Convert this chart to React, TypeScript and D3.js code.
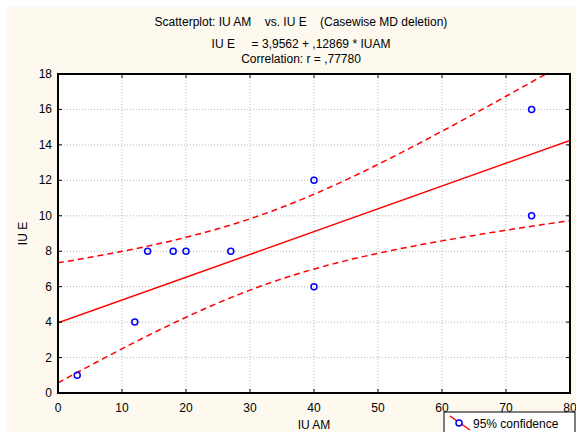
import React from "react";
import * as d3 from "d3";

const xValues = [3, 12, 14, 18, 20, 27, 40, 40, 74, 74];
const yValues = [1, 4, 8, 8, 8, 8, 12, 6, 16, 10];
const xTicks = [0, 10, 20, 30, 40, 50, 60, 70, 80];
const yTicks = [0, 2, 4, 6, 8, 10, 12, 14, 16, 18];
const titleLines = [
  "Scatterplot: IU AM    vs. IU E    (Casewise MD deletion)",
  "IU E     = 3,9562 + ,12869 * IUAM",
  "Correlation: r = ,77780",
];
const xLabel = "IU AM";
const yLabel = "IU E";
const legendLabel = "95% confidence";
const tCrit = 2.306; // t(0.975, df=8)

const W = 576, H = 432;
const M = { left: 58, right: 570, top: 74, bottom: 393 };
const FONT = "Liberation Sans, Arial, sans-serif";

export default function App() {
  const x = d3.scaleLinear().domain([0, 80]).range([M.left, M.right]);
  const y = d3.scaleLinear().domain([0, 18]).range([M.bottom, M.top]);

  const n = xValues.length;
  const mx = d3.mean(xValues)!;
  const my = d3.mean(yValues)!;
  const sxx = d3.sum(xValues, (v) => (v - mx) ** 2);
  const sxy = d3.sum(xValues, (v, i) => (v - mx) * (yValues[i] - my));
  const b = sxy / sxx;
  const a = my - b * mx;
  const sse = d3.sum(xValues, (v, i) => (yValues[i] - (a + b * v)) ** 2);
  const s = Math.sqrt(sse / (n - 2));

  const xs = d3.range(0, 80.01, 0.5);
  const band = (sign: number) =>
    xs.map((v) => [
      v,
      a + b * v + sign * tCrit * s * Math.sqrt(1 / n + (v - mx) ** 2 / sxx),
    ]);
  const line = d3
    .line<number[]>()
    .x((d) => x(d[0]))
    .y((d) => y(d[1]));

  return (
    <svg
      width={W}
      height={H}
      style={{ position: "absolute", left: 0, top: 0, fontFamily: FONT }}
    >
      <rect x={0} y={0} width={W} height={H} fill="#ffffff" />
      <rect x={7} y={7} width={W - 7} height={H - 7} fill="#fdf9ef" />
      <defs>
        <clipPath id="plotClip">
          <rect x={M.left} y={M.top} width={M.right - M.left} height={M.bottom - M.top} />
        </clipPath>
      </defs>
      <rect
        x={M.left}
        y={M.top}
        width={M.right - M.left}
        height={M.bottom - M.top}
        fill="#ffffff"
      />
      {/* grid */}
      {xTicks.slice(1, -1).map((t) => (
        <line key={"gx" + t} x1={x(t)} x2={x(t)} y1={M.top} y2={M.bottom}
          stroke="#b8b8b8" strokeWidth={1} strokeDasharray="1,2" />
      ))}
      {yTicks.slice(1, -1).map((t) => (
        <line key={"gy" + t} x1={M.left} x2={M.right} y1={y(t)} y2={y(t)}
          stroke="#b8b8b8" strokeWidth={1} strokeDasharray="1,2" />
      ))}
      {/* regression and bands */}
      <g clipPath="url(#plotClip)">
        <path d={line(band(1))!} fill="none" stroke="#ff0000" strokeWidth={1.5} strokeDasharray="6,4" />
        <path d={line(band(-1))!} fill="none" stroke="#ff0000" strokeWidth={1.5} strokeDasharray="6,4" />
        <line x1={x(0)} y1={y(a)} x2={x(80)} y2={y(a + b * 80)} stroke="#ff0000" strokeWidth={1.5} />
      </g>
      {/* points */}
      {xValues.map((v, i) => (
        <circle key={"p" + i} cx={x(v)} cy={y(yValues[i])} r={3}
          fill="none" stroke="#0000ff" strokeWidth={1.5} />
      ))}
      {/* ticks */}
      {xTicks.map((t) => (
        <g key={"tx" + t}>
          <line x1={x(t)} x2={x(t)} y1={M.bottom} y2={M.bottom - 4} stroke="#000" strokeWidth={1} />
          <line x1={x(t)} x2={x(t)} y1={M.top} y2={M.top + 4} stroke="#000" strokeWidth={1} />
          <text x={x(t)} y={412} textAnchor="middle" fontSize={12} fill="#000">{t}</text>
        </g>
      ))}
      {yTicks.map((t) => (
        <g key={"ty" + t}>
          <line x1={M.left} x2={M.left + 4} y1={y(t)} y2={y(t)} stroke="#000" strokeWidth={1} />
          <line x1={M.right} x2={M.right - 4} y1={y(t)} y2={y(t)} stroke="#000" strokeWidth={1} />
          <text x={52} y={y(t) + 4} textAnchor="end" fontSize={12} fill="#000">{t}</text>
        </g>
      ))}
      {/* frame */}
      <rect x={M.left} y={M.top} width={M.right - M.left} height={M.bottom - M.top}
        fill="none" stroke="#000" strokeWidth={2} />
      {/* titles */}
      {titleLines.map((tl, i) => (
        <text key={"t" + i} x={301} y={[26, 48, 63][i]} textAnchor="middle"
          fontSize={12} fill="#000" style={{ whiteSpace: "pre" }}>{tl}</text>
      ))}
      <text x={314} y={429} textAnchor="middle" fontSize={12} fill="#000">{xLabel}</text>
      <text transform={`translate(27,${(M.top + M.bottom) / 2}) rotate(-90)`}
        textAnchor="middle" fontSize={12} fill="#000">{yLabel}</text>
      {/* legend */}
      <rect x={444} y={412} width={131} height={25} fill="#ffffff" stroke="#000" strokeWidth={1} />
      <line x1={450} y1={416} x2={470} y2={430} stroke="#ff0000" strokeWidth={1.5} />
      <circle cx={459} cy={423} r={3} fill="#ffffff" stroke="#0000ff" strokeWidth={1.5} />
      <text x={473} y={428} fontSize={12} fill="#000">{legendLabel}</text>
    </svg>
  );
}
